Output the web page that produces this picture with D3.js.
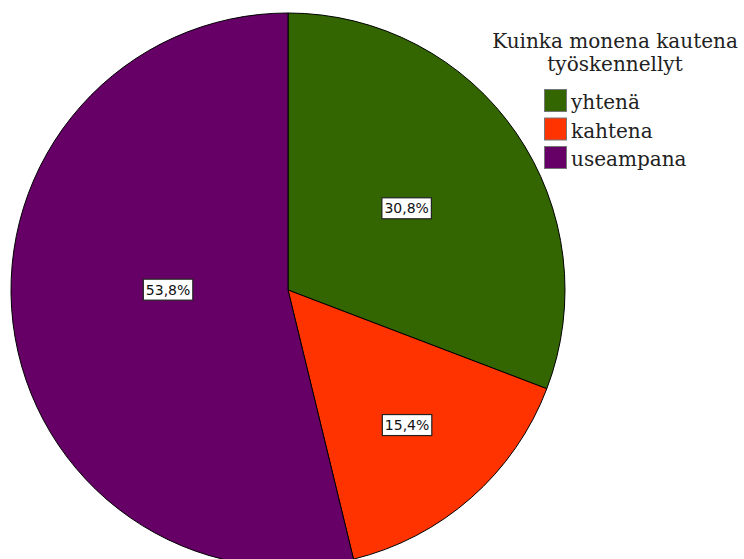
<!DOCTYPE html>
<html><head><meta charset="utf-8">
<script src="https://cdn.jsdelivr.net/npm/d3@7"></script>
<style>body{margin:0;background:#fff}svg{display:block}</style>
</head><body>
<svg id="chart" width="744" height="559"></svg>
<script>
const categories = ["yhtenä", "kahtena", "useampana"];
const values = [30.8, 15.4, 53.8];
const labels = ["30,8%", "15,4%", "53,8%"];
const colors = ["#336600", "#FF3300", "#660066"];
const labelRadiusFraction = [0.52, 0.65, 0.433];
const labelAngleShiftDeg = [0, 0, 7];
const legendTitle = ["Kuinka monena kautena", "työskennellyt"];

const svg = d3.select("#chart");
const cx = 288, cy = 290, r = 277;
const pie = d3.pie().sort(null).value(d => d)(values);
const arc = d3.arc().innerRadius(0).outerRadius(r);
const g = svg.append("g").attr("transform", `translate(${cx},${cy})`);
g.selectAll("path").data(pie).join("path")
  .attr("d", arc).attr("fill", (d,i) => colors[i])
  .attr("stroke", "#000").attr("stroke-width", 1);

pie.forEach((d, i) => {
  const a = (d.startAngle + d.endAngle) / 2 + labelAngleShiftDeg[i] * Math.PI / 180;
  const rr = r * labelRadiusFraction[i];
  const x = rr * Math.sin(a), y = -rr * Math.cos(a);
  const lg = g.append("g").attr("transform", `translate(${x},${y})`);
  const t = lg.append("text").text(labels[i])
    .attr("text-anchor", "middle").attr("dy", "0.37em")
    .attr("font-family", "DejaVu Sans, sans-serif")
    .attr("font-size", 14).attr("fill", "#111");
  const bb = t.node().getBBox();
  lg.insert("rect", "text")
    .attr("x", bb.x - 2.5).attr("y", -10.5).attr("width", bb.width + 5).attr("height", 21)
    .attr("fill", "#fff").attr("stroke", "#222").attr("stroke-width", 1.2);
});

const serif = "DejaVu Serif, serif";
const lgx = 615;
const titles = svg.selectAll("text.title").data(legendTitle).join("text").attr("class", "title")
  .attr("x", lgx).attr("y", (d,i) => 48 + i * 23)
  .attr("text-anchor", "middle").attr("font-family", serif).attr("font-size", 20)
  .attr("fill", "#222").text(d => d);
const w0 = titles.nodes()[0].getComputedTextLength();
const fs = 20 * 246 / w0;
titles.attr("font-size", fs);

const items = svg.selectAll("g.item").data(categories).join("g").attr("class", "item")
  .attr("transform", (d,i) => `translate(544,${89 + i * 28.5})`);
items.append("rect").attr("x", 0.5).attr("y", 0.5).attr("width", 22).attr("height", 22)
  .attr("fill", (d,i) => colors[i]).attr("stroke", "#777").attr("stroke-width", 1);
items.append("text").attr("x", 27).attr("y", 20).attr("font-family", serif)
  .attr("font-size", fs).attr("fill", "#222").text(d => d);
</script>
</body></html>
